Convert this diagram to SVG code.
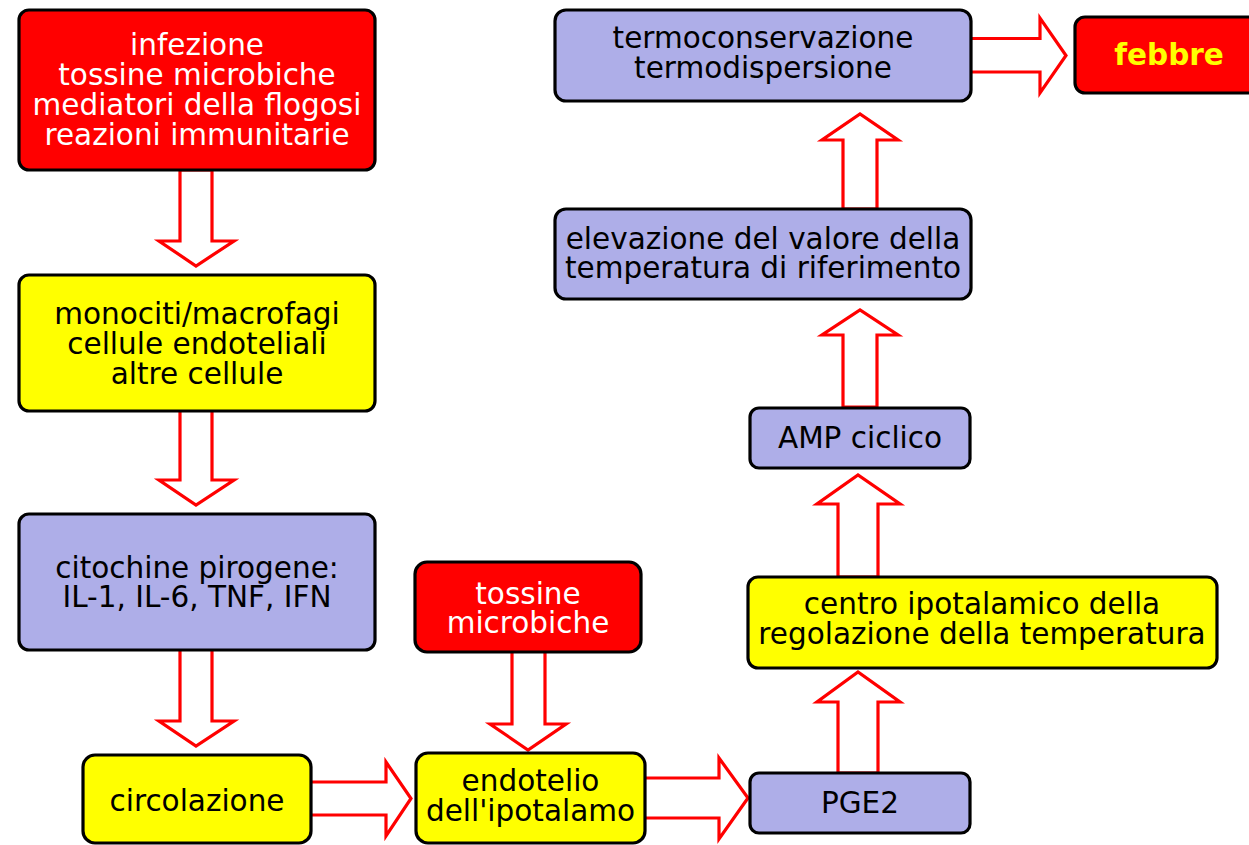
<svg xmlns="http://www.w3.org/2000/svg" width="1249" height="845" viewBox="0 0 1249 845">
<style>
.box{stroke:#000;stroke-width:3.2}
.red{fill:#ff0000}
.yel{fill:#ffff00}
.blu{fill:#aeaee8}
.arr{fill:#fff;stroke:#ff0000;stroke-width:3.2;stroke-linejoin:miter}
text{font-family:"DejaVu Sans","Liberation Sans",sans-serif;font-size:29.5px;text-anchor:middle}
.w{fill:#fff}
.k{fill:#000}
.fb{fill:#ffff00;font-weight:bold}
</style>
<rect width="1249" height="845" fill="#fff"/>
<g id="connectors">
<polygon class="arr" points="180,170 180,241 159,241 196,266 234,241 212,241 212,170"/>
<polygon class="arr" points="180,410 180,480 159,480 196,505 234,480 212,480 212,410"/>
<polygon class="arr" points="180,649 180,721 159,721 196,746 234,721 212,721 212,649"/>
<polygon class="arr" points="512,651 512,724 490,724 528,750 566,724 545,724 545,651"/>
<polygon class="arr" points="310,782 386,782 386,762 411,798.5 386,836 386,815 310,815"/>
<polygon class="arr" points="644,778 719,778 719,758 748,798 719,839 719,818 644,818"/>
<polygon class="arr" points="838,773 838,702 817,702 858,672 900,702 878,702 878,773"/>
<polygon class="arr" points="838,577 838,504 817,504 858,475 900,504 878,504 878,577"/>
<polygon class="arr" points="843,407 843,335 822,335 860,310 898,335 877,335 877,407"/>
<polygon class="arr" points="843,209 843,140 822,140 860,114 898,140 877,140 877,209"/>
<polygon class="arr" points="970,38.5 1040,38.5 1040,18 1066,55.5 1040,93 1040,72 970,72"/>
</g>
<g id="n1"><rect class="box red" x="19" y="10" width="356" height="160" rx="10"/>
<text class="w" x="197" y="55">infezione</text><text class="w" x="197" y="85">tossine microbiche</text><text class="w" x="197" y="115">mediatori della flogosi</text><text class="w" x="197" y="145">reazioni immunitarie</text></g>
<g id="n2"><rect class="box yel" x="19" y="275" width="356" height="136" rx="10"/>
<text class="k" x="197" y="324">monociti/macrofagi</text><text class="k" x="197" y="354">cellule endoteliali</text><text class="k" x="197" y="384">altre cellule</text></g>
<g id="n3"><rect class="box blu" x="19" y="514" width="356" height="136" rx="10"/>
<text class="k" x="197" y="578">citochine pirogene:</text><text class="k" x="197" y="607">IL-1, IL-6, TNF, IFN</text></g>
<g id="n4"><rect class="box yel" x="83" y="755" width="228" height="88" rx="12"/>
<text class="k" x="197" y="811">circolazione</text></g>
<g id="n5"><rect class="box red" x="415" y="562" width="226" height="90" rx="12"/>
<text class="w" x="528" y="604">tossine</text><text class="w" x="528" y="633">microbiche</text></g>
<g id="n6"><rect class="box yel" x="416" y="753" width="229" height="90" rx="12"/>
<text class="k" x="530.5" y="791">endotelio</text><text class="k" x="530.5" y="821">dell'ipotalamo</text></g>
<g id="n7"><rect class="box blu" x="750" y="773" width="220" height="60" rx="9"/>
<text class="k" x="860" y="813">PGE2</text></g>
<g id="n8"><rect class="box yel" x="748" y="577" width="469" height="91" rx="10"/>
<text class="k" x="982" y="614">centro ipotalamico della</text><text class="k" x="982" y="644">regolazione della temperatura</text></g>
<g id="n9"><rect class="box blu" x="750" y="408" width="220" height="60" rx="9"/>
<text class="k" x="860" y="448">AMP ciclico</text></g>
<g id="n10"><rect class="box blu" x="555" y="209" width="416" height="90" rx="11"/>
<text class="k" x="763" y="249">elevazione del valore della</text><text class="k" x="763" y="278">temperatura di riferimento</text></g>
<g id="n11"><rect class="box blu" x="555" y="10" width="416" height="91" rx="11"/>
<text class="k" x="763" y="48">termoconservazione</text><text class="k" x="763" y="78">termodispersione</text></g>
<g id="n12"><rect class="box red" x="1075" y="17" width="190" height="76" rx="10"/>
<text class="fb" x="1169" y="65">febbre</text></g>
</svg>
